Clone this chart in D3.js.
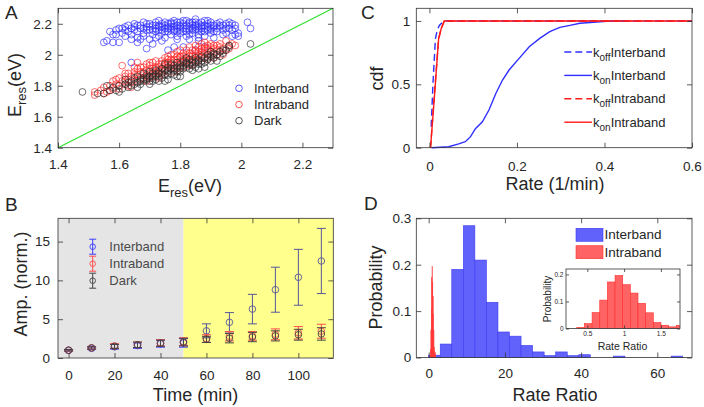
<!DOCTYPE html>
<html>
<head>
<meta charset="utf-8">
<script src="https://cdn.jsdelivr.net/npm/d3@7"></script>
<style>
  body { margin: 0; background: #fff; }
  svg text { font-family: Arial, "Liberation Sans", sans-serif; fill: #262626; }
</style>
</head>
<body>
<svg id="fig" width="704" height="407"></svg>
<script>
'use strict';

// ---- A: resonance energies ----
const interbandPts = [[1.55,2.08],[1.56,2.09],[1.58,2.08],[1.57,2.15],[1.58,2.13],[1.59,2.16],[1.60,2.17],[1.61,2.14],[1.62,2.18],[1.62,2.16],[1.63,2.19],[1.64,2.17],[1.64,2.13],[1.65,2.18],[1.65,2.20],[1.66,2.15],[1.66,2.11],[1.66,2.08],[1.67,2.17],[1.67,2.19],[1.68,2.21],[1.68,2.14],[1.68,2.12],[1.69,2.04],[1.69,2.18],[1.70,2.16],[1.70,2.20],[1.70,2.10],[1.71,2.19],[1.71,2.13],[1.72,2.21],[1.72,2.17],[1.72,2.15],[1.73,2.18],[1.73,2.12],[1.73,2.22],[1.74,2.20],[1.74,2.16],[1.74,2.14],[1.75,2.19],[1.75,2.17],[1.75,2.21],[1.75,2.11],[1.76,2.03],[1.76,2.18],[1.76,2.15],[1.77,2.20],[1.77,2.16],[1.77,2.13],[1.78,2.22],[1.78,2.18],[1.78,2.05],[1.78,2.15],[1.79,2.19],[1.79,2.17],[1.79,2.12],[1.80,2.21],[1.80,2.18],[1.80,2.16],[1.80,2.14],[1.81,2.20],[1.81,2.17],[1.81,2.05],[1.82,2.19],[1.82,2.22],[1.82,2.15],[1.82,2.12],[1.83,2.18],[1.83,2.20],[1.83,2.16],[1.84,2.21],[1.84,2.17],[1.84,2.14],[1.85,2.19],[1.85,2.23],[1.85,2.16],[1.85,2.03],[1.86,2.20],[1.86,2.18],[1.86,2.13],[1.87,2.21],[1.87,2.17],[1.87,2.15],[1.88,2.19],[1.88,2.22],[1.88,2.05],[1.88,2.12],[1.89,2.18],[1.89,2.20],[1.89,2.16],[1.90,2.21],[1.90,2.17],[1.90,2.14],[1.91,2.19],[1.91,2.15],[1.92,2.20],[1.92,2.17],[1.93,2.18],[1.93,2.21],[1.94,2.16],[1.94,2.19],[1.95,2.20],[1.95,2.14],[1.96,2.19],[1.96,2.17],[1.97,2.20],[1.97,2.16],[1.98,2.17],[1.98,2.13],[1.99,2.14],[1.99,2.12],[2.02,2.21],[2.03,2.17],[1.64,1.95],[1.60,2.08],[1.63,2.15],[1.67,2.10],[1.71,2.07],[1.74,2.09],[1.83,2.10],[1.86,2.09],[1.91,2.11],[1.69,2.16],[1.76,2.20],[1.79,2.21],[1.84,2.19],[1.87,2.19],[1.81,2.22],[1.73,2.19],[1.77,2.18],[1.83,2.13],[1.90,2.19],[1.94,2.13],[1.65,2.16],[1.61,2.17],[1.66,2.19],[1.68,2.17],[1.69,2.20],[1.70,2.18],[1.71,2.16],[1.72,2.19],[1.73,2.16],[1.74,2.18],[1.75,2.15],[1.76,2.17],[1.77,2.21],[1.78,2.16],[1.78,2.20],[1.79,2.15],[1.80,2.19],[1.81,2.15],[1.82,2.17],[1.83,2.21],[1.84,2.16],[1.85,2.18],[1.85,2.21],[1.86,2.16],[1.87,2.18],[1.88,2.17],[1.88,2.15],[1.89,2.22],[1.90,2.16],[1.91,2.18],[1.92,2.15],[1.93,2.19],[1.95,2.17],[1.96,2.21],[1.98,2.19],[1.62,2.12],[1.64,2.10],[1.59,2.13],[1.72,2.11],[1.79,2.10],[1.86,2.11],[1.97,2.12]];

const intrabandPts = [[1.52,1.74],[1.52,1.76],[1.54,1.77],[1.55,1.79],[1.56,1.76],[1.57,1.80],[1.58,1.83],[1.58,1.78],[1.59,1.81],[1.60,1.85],[1.60,1.80],[1.61,1.93],[1.61,1.83],[1.62,1.86],[1.62,1.81],[1.63,1.84],[1.63,1.88],[1.64,1.82],[1.64,1.86],[1.65,1.89],[1.65,1.84],[1.66,1.87],[1.66,1.91],[1.66,1.83],[1.67,1.85],[1.67,1.89],[1.68,1.92],[1.68,1.87],[1.68,1.84],[1.69,1.90],[1.69,1.86],[1.70,1.93],[1.70,1.88],[1.70,1.85],[1.71,1.91],[1.71,1.87],[1.71,1.95],[1.72,1.89],[1.72,1.92],[1.72,1.86],[1.73,1.94],[1.73,1.90],[1.73,1.88],[1.74,1.96],[1.74,1.91],[1.74,1.89],[1.75,1.93],[1.75,1.90],[1.75,1.98],[1.76,1.92],[1.76,1.95],[1.76,1.89],[1.77,1.97],[1.77,1.93],[1.77,1.91],[1.78,1.95],[1.78,2.00],[1.78,1.92],[1.79,1.94],[1.79,1.97],[1.79,2.02],[1.80,1.96],[1.80,1.93],[1.80,1.99],[1.81,1.95],[1.81,2.01],[1.81,1.97],[1.82,1.98],[1.82,1.94],[1.82,2.03],[1.83,1.99],[1.83,1.96],[1.83,2.05],[1.84,2.00],[1.84,1.97],[1.84,2.03],[1.85,1.98],[1.85,2.01],[1.85,2.06],[1.86,2.02],[1.86,1.99],[1.86,1.96],[1.87,2.04],[1.87,2.00],[1.87,2.07],[1.88,2.01],[1.88,1.98],[1.88,2.05],[1.89,2.03],[1.89,2.00],[1.89,2.06],[1.90,2.02],[1.90,1.99],[1.90,2.05],[1.91,2.04],[1.91,2.01],[1.92,2.03],[1.92,2.06],[1.93,2.02],[1.93,2.05],[1.94,2.04],[1.95,2.09],[1.95,2.03],[1.96,2.06],[1.97,2.07],[1.98,2.06],[1.59,1.84],[1.63,1.80],[1.65,1.92],[1.69,1.83],[1.72,1.96],[1.76,1.99],[1.78,1.89],[1.81,1.92],[1.84,1.94],[1.86,2.05],[1.88,2.08],[1.91,1.98],[1.94,2.00],[1.57,1.77],[1.62,1.88],[1.67,1.92],[1.70,1.95],[1.73,1.85],[1.77,2.00],[1.80,2.03],[1.83,1.93],[1.89,1.97],[1.92,2.00],[1.66,1.95],[1.64,1.79],[1.60,1.78],[1.55,1.75],[1.62,1.83],[1.65,1.87],[1.68,1.89],[1.70,1.90],[1.72,1.91],[1.73,1.92],[1.74,1.94],[1.75,1.95],[1.76,1.94],[1.77,1.95],[1.78,1.97],[1.79,1.99],[1.80,1.98],[1.81,1.99],[1.82,2.00],[1.83,2.01],[1.84,1.99],[1.85,2.03],[1.86,2.00],[1.87,2.02],[1.88,2.03],[1.89,2.04],[1.90,2.07],[1.91,2.06],[1.93,2.07],[1.96,2.04],[1.69,1.94],[1.71,1.89],[1.74,1.87],[1.76,1.97],[1.79,1.91],[1.82,1.96],[1.85,1.96],[1.87,1.98]];

const darkPts = [[1.48,1.76],[1.53,1.75],[1.55,1.75],[1.57,1.77],[1.58,1.79],[1.59,1.77],[1.60,1.80],[1.61,1.78],[1.62,1.81],[1.63,1.79],[1.64,1.83],[1.65,1.81],[1.65,1.85],[1.66,1.82],[1.66,1.86],[1.67,1.84],[1.67,1.81],[1.68,1.85],[1.68,1.83],[1.69,1.87],[1.69,1.84],[1.70,1.86],[1.70,1.83],[1.70,1.89],[1.71,1.85],[1.71,1.88],[1.72,1.87],[1.72,1.84],[1.72,1.90],[1.73,1.86],[1.73,1.89],[1.74,1.88],[1.74,1.85],[1.74,1.91],[1.75,1.87],[1.75,1.90],[1.75,1.83],[1.76,1.89],[1.76,1.92],[1.76,1.87],[1.77,1.91],[1.77,1.88],[1.77,1.94],[1.78,1.90],[1.78,1.93],[1.78,1.87],[1.79,1.92],[1.79,1.89],[1.79,1.95],[1.80,1.91],[1.80,1.94],[1.80,1.89],[1.81,1.93],[1.81,1.96],[1.81,1.91],[1.82,1.95],[1.82,1.92],[1.83,1.94],[1.83,1.97],[1.83,1.91],[1.84,1.96],[1.84,1.93],[1.85,1.95],[1.85,1.98],[1.85,1.92],[1.86,1.97],[1.86,1.94],[1.87,1.96],[1.87,1.99],[1.88,1.98],[1.88,1.95],[1.89,2.00],[1.89,1.97],[1.90,1.99],[1.90,1.96],[1.91,2.01],[1.91,1.98],[1.92,2.00],[1.93,2.02],[1.93,1.99],[1.94,2.01],[1.95,2.03],[1.96,2.05],[1.96,2.06],[2.03,2.07],[1.71,1.83],[1.64,1.80],[1.68,1.88],[1.73,1.83],[1.76,1.84],[1.80,1.86],[1.84,1.90],[1.88,1.92],[1.92,1.96],[1.62,1.84],[1.66,1.79],[1.70,1.81],[1.75,1.94],[1.79,1.86],[1.82,1.98],[1.86,1.91],[1.90,2.02],[1.56,1.80],[1.60,1.76],[1.71,1.86],[1.73,1.88],[1.76,1.90],[1.78,1.91],[1.80,1.92],[1.82,1.94],[1.84,1.95],[1.86,1.96],[1.87,1.94],[1.89,1.98],[1.91,2.00],[1.94,2.03],[1.69,1.85],[1.67,1.83],[1.63,1.82]];

const diagEnds = [1.4, 2.3];
const aTicks = [1.4, 1.6, 1.8, 2, 2.2];

// ---- B: amplitude vs time ----
const times = [0, 10, 20, 30, 40, 50, 60, 70, 80, 90, 100, 110];
const ampInter = [1.0, 1.25, 1.45, 1.6, 1.85, 1.95, 3.5, 4.6, 6.3, 8.8, 10.4, 12.5];
const errInter = [0.1, 0.15, 0.3, 0.35, 0.45, 0.55, 0.9, 1.25, 1.9, 2.9, 3.6, 4.2];
const ampIntra = [1.0, 1.3, 1.55, 1.7, 1.95, 2.1, 2.5, 2.8, 2.85, 3.05, 3.25, 3.45];
const errIntra = [0.1, 0.15, 0.3, 0.35, 0.4, 0.5, 0.5, 0.6, 0.55, 0.7, 0.8, 0.9];
const ampDark = [1.0, 1.3, 1.5, 1.7, 1.9, 2.05, 2.4, 2.55, 2.7, 2.85, 3.0, 3.1];
const errDark = [0.1, 0.15, 0.25, 0.35, 0.4, 0.5, 0.4, 0.6, 0.6, 0.65, 0.7, 0.8];
const lightOnAt = 50;
const bxTicks = [0, 20, 40, 60, 80, 100];
const byTicks = [0, 5, 10, 15];

// ---- C: rate cdfs ----
const koffInterRate = [0.004, 0.008, 0.0137, 0.018, 0.023, 0.03, 0.034, 0.6];
const koffInterCdf = [0.165, 0.5, 0.86, 0.93, 0.966, 0.99, 1.0, 1.0];
const konInterRate = [0.005, 0.044, 0.067, 0.082, 0.094, 0.105, 0.121, 0.136, 0.152, 0.167, 0.182, 0.205, 0.228, 0.252, 0.275, 0.298, 0.321, 0.344, 0.375, 0.405, 0.436, 0.45];
const konInterCdf = [0, 0.008, 0.03, 0.047, 0.087, 0.15, 0.205, 0.297, 0.43, 0.534, 0.613, 0.705, 0.797, 0.863, 0.916, 0.95, 0.965, 0.982, 0.99, 0.997, 1.0, 1.0];
const koffIntraRate = [0.0025, 0.012, 0.021, 0.027, 0.034, 0.6];
const koffIntraCdf = [0, 0.45, 0.86, 0.94, 1.0, 1.0];
const konIntraRate = [0.0025, 0.012, 0.021, 0.027, 0.034, 0.6];
const konIntraCdf = [0, 0.43, 0.86, 0.94, 1.0, 1.0];
const cxTicks = [0, 0.2, 0.4, 0.6];
const cyTicks = [0, 0.5, 1];

// ---- D: rate ratio histograms ----
const interBinWidth = 3.03;
const interProb = [0.005, 0.029, 0.19, 0.284, 0.21, 0.119, 0.055, 0.046, 0.026, 0.012, 0.004, 0.012, 0.004, 0.006, 0, 0, 0.003, 0, 0, 0, 0, 0.003];
const intraBinStart = 0.357;
const intraBinWidth = 0.104;
const intraProb = [0.004, 0.018, 0.059, 0.105, 0.172, 0.196, 0.162, 0.131, 0.093, 0.058, 0.022, 0.012, 0.006, 0.011];
const dxTicks = [0, 20, 40, 60];
const dyTicks = [0, 0.1, 0.2, 0.3];
const insetXTicks = [0.5, 1, 1.5];
const insetYTicks = [0, 0.1, 0.2];

const svg = d3.select('#fig');
svg.append('rect').attr('width', 704).attr('height', 407).attr('fill', '#fff');

const frameColor = '#333';

// boxed axes, ticks pointing inwards on all four sides
function frame(g, x, y, xt, yt, o) {
  const [x0, x1] = x.range();
  const [y1, y0] = y.range();
  const tl = o.tick || 5;
  const fs = o.fs || 13.5;
  const fmt = d => String(d);
  const axes = [
    [d3.axisBottom(x).tickValues(xt).tickPadding(o.padX).tickFormat(fmt), `translate(0,${y1})`, true],
    [d3.axisTop(x).tickValues(xt).tickFormat(''), `translate(0,${y0})`, false],
    [d3.axisLeft(y).tickValues(yt).tickPadding(o.padY).tickFormat(fmt), `translate(${x0},0)`, true],
    [d3.axisRight(y).tickValues(yt).tickFormat(''), `translate(${x1},0)`, false]
  ];
  axes.forEach(([ax, tr, lab]) => {
    const a = g.append('g').attr('transform', tr)
      .call(ax.tickSizeInner(-tl).tickSizeOuter(0));
    a.select('.domain').remove();
    a.selectAll('line').attr('stroke', frameColor).attr('stroke-width', 0.8);
    a.attr('font-family', null).attr('font-size', null);
    a.selectAll('text').style('font-size', fs + 'px');
    if (!lab) a.selectAll('text').remove();
  });
  g.append('rect')
    .attr('x', x0).attr('y', y0).attr('width', x1 - x0).attr('height', y1 - y0)
    .attr('fill', 'none').attr('stroke', frameColor).attr('stroke-width', 0.8);
}

function panelLetter(t, x, y) {
  svg.append('text').attr('x', x).attr('y', y).style('font-size', '19px').text(t);
}

// ================= A =================
const gA = svg.append('g');
const ax = d3.scaleLinear().domain([1.4, 2.3]).range([58, 333]);
const ay = d3.scaleLinear().domain([1.4, 2.3]).range([147.7, 8.3]);

gA.append('line')
  .attr('x1', ax(diagEnds[0])).attr('y1', ay(diagEnds[0]))
  .attr('x2', ax(diagEnds[1])).attr('y2', ay(diagEnds[1]))
  .attr('stroke', '#2ee02e').attr('stroke-width', 1.2);

const scatterSets = [
  { pts: interbandPts, color: '#3030ff', name: 'Interband' },
  { pts: intrabandPts, color: '#ff2a2a', name: 'Intraband' },
  { pts: darkPts, color: '#2a2a2a', name: 'Dark' }
];
scatterSets.forEach(s => {
  gA.append('g').selectAll('circle').data(s.pts).enter().append('circle')
    .attr('cx', d => ax(d[0])).attr('cy', d => ay(d[1])).attr('r', 3.4)
    .attr('fill', 'none').attr('stroke', s.color).attr('stroke-width', 0.8)
    .attr('stroke-opacity', 0.85);
});
frame(gA, ax, ay, aTicks, aTicks, { padX: 11.5, padY: 6 });

scatterSets.forEach((s, i) => {
  const yy = 88.3 + i * 16.2;
  gA.append('circle').attr('cx', 239).attr('cy', yy).attr('r', 3.3)
    .attr('fill', 'none').attr('stroke', s.color).attr('stroke-width', 0.8);
  gA.append('text').attr('x', 254).attr('y', yy + 4.6).style('font-size', '13px').text(s.name);
});

const aXl = gA.append('text').attr('x', 190).attr('y', 192).attr('text-anchor', 'middle').style('font-size', '18px');
aXl.append('tspan').text('E');
aXl.append('tspan').attr('dy', 5).style('font-size', '13px').text('res');
aXl.append('tspan').attr('dy', -5).text('(eV)');
const aYl = gA.append('text').attr('transform', 'translate(21,85) rotate(-90)').attr('text-anchor', 'middle').style('font-size', '18px');
aYl.append('tspan').text('E');
aYl.append('tspan').attr('dy', 5).style('font-size', '13px').text('res');
aYl.append('tspan').attr('dy', -5).text('(eV)');
panelLetter('A', 5, 18.5);

// ================= B =================
const gB = svg.append('g');
const bx = d3.scaleLinear().domain([-4.6, 115.2]).range([58, 333.3]);
const by = d3.scaleLinear().domain([0, 18]).range([358, 218.3]);

gB.append('rect').attr('x', bx(-4.6)).attr('y', by(18))
  .attr('width', bx(lightOnAt) - bx(-4.6)).attr('height', by(0) - by(18)).attr('fill', '#e5e5e5');
gB.append('rect').attr('x', bx(lightOnAt)).attr('y', by(18))
  .attr('width', bx(115.2) - bx(lightOnAt)).attr('height', by(0) - by(18)).attr('fill', '#ffff8e');

function errSeries(g, mean, err, colorOf) {
  const s = g.append('g');
  times.forEach((t, i) => {
    const c = colorOf(t);
    const px = bx(t);
    const lo = by(mean[i] - err[i]), hi = by(mean[i] + err[i]);
    s.append('line').attr('x1', px).attr('x2', px).attr('y1', lo).attr('y2', hi)
      .attr('stroke', c).attr('stroke-width', 1);
    [lo, hi].forEach(yy => s.append('line').attr('x1', px - 4.5).attr('x2', px + 4.5)
      .attr('y1', yy).attr('y2', yy).attr('stroke', c).attr('stroke-width', 1));
    s.append('circle').attr('cx', px).attr('cy', by(mean[i])).attr('r', 3.3)
      .attr('fill', 'none').attr('stroke', c).attr('stroke-width', 0.9);
  });
}
errSeries(gB, ampInter, errInter, t => (t > lightOnAt ? '#56569a' : '#3b3bff'));
errSeries(gB, ampIntra, errIntra, () => '#ff4c4c');
errSeries(gB, ampDark, errDark, () => '#444');
frame(gB, bx, by, bxTicks, byTicks, { padX: 12.7, padY: 8 });

[['Interband', '#3b3bff'], ['Intraband', '#ff4c4c'], ['Dark', '#444']].forEach(([name, c], i) => {
  const yy = 246.7 + i * 17;
  const px = 92.7;
  gB.append('line').attr('x1', px).attr('x2', px).attr('y1', yy - 7.5).attr('y2', yy + 7.5).attr('stroke', c);
  [yy - 7.5, yy + 7.5].forEach(v => gB.append('line').attr('x1', px - 3.5).attr('x2', px + 3.5)
    .attr('y1', v).attr('y2', v).attr('stroke', c));
  gB.append('circle').attr('cx', px).attr('cy', yy).attr('r', 2.8)
    .attr('fill', 'none').attr('stroke', c).attr('stroke-width', 0.9);
  gB.append('text').attr('x', 109.3).attr('y', yy + 4.6).style('font-size', '13px')
    .style('fill', '#4a4a4a').text(name);
});

gB.append('text').attr('x', 195.5).attr('y', 401).attr('text-anchor', 'middle').style('font-size', '18px').text('Time (min)');
gB.append('text').attr('transform', 'translate(27,284) rotate(-90)').attr('text-anchor', 'middle').style('font-size', '18px').text('Amp. (norm.)');
panelLetter('B', 5, 211);

// ================= C =================
const gC = svg.append('g');
const cx = d3.scaleLinear().domain([-0.03, 0.6]).range([416.3, 692]);
const cy = d3.scaleLinear().domain([0, 1.1]).range([147.7, 8.3]);
const cBlue = '#2f2fff', cRed = '#ff1a1a';
const cLines = [
  { r: koffInterRate, p: koffInterCdf, c: cBlue, dash: '7,4', lab: ['off', 'Interband'] },
  { r: konInterRate, p: konInterCdf, c: cBlue, dash: null, lab: ['on', 'Interband'] },
  { r: koffIntraRate, p: koffIntraCdf, c: cRed, dash: '7,4', lab: ['off', 'Intraband'] },
  { r: konIntraRate, p: konIntraCdf, c: cRed, dash: null, lab: ['on', 'Intraband'] }
];
const cLine = d3.line().x(d => cx(d[0])).y(d => cy(d[1]));
cLines.forEach(l => {
  gC.append('path').datum(l.r.map((v, i) => [v, l.p[i]]))
    .attr('d', cLine).attr('fill', 'none').attr('stroke', l.c)
    .attr('stroke-width', 1.4).attr('stroke-dasharray', l.dash);
});
frame(gC, cx, cy, cxTicks, cyTicks, { padX: 14, padY: 6 });

cLines.forEach((l, i) => {
  const yy = 52 + i * 23.4;
  gC.append('line').attr('x1', 564.3).attr('x2', 592).attr('y1', yy).attr('y2', yy)
    .attr('stroke', l.c).attr('stroke-width', 1.4).attr('stroke-dasharray', l.dash);
  const t = gC.append('text').attr('x', 593).attr('y', yy + 4.5).style('font-size', '13px');
  t.append('tspan').text('k');
  t.append('tspan').attr('dy', 4).style('font-size', '10px').text(l.lab[0]);
  t.append('tspan').attr('dy', -4).text(l.lab[1]);
});
gC.append('text').attr('x', 555).attr('y', 190).attr('text-anchor', 'middle').style('font-size', '18px').text('Rate (1/min)');
gC.append('text').attr('transform', 'translate(383,78.5) rotate(-90)').attr('text-anchor', 'middle').style('font-size', '18px').text('cdf');
panelLetter('C', 361, 18.5);

// ================= D =================
const gD = svg.append('g');
const dx = d3.scaleLinear().domain([-3.25, 69.1]).range([416.3, 692]);
const dy = d3.scaleLinear().domain([0, 0.3]).range([357.5, 218.3]);
const blueFill = '#6161fb', blueEdge = '#3d3df2', redFill = '#ff6363', redEdge = '#ff2e2e';

gD.append('g').selectAll('rect').data(interProb.map((p, i) => ({ s: i * interBinWidth, p })).filter(d => d.p > 0))
  .enter().append('rect')
  .attr('x', d => dx(d.s)).attr('width', d => dx(d.s + interBinWidth) - dx(d.s))
  .attr('y', d => dy(d.p)).attr('height', d => dy(0) - dy(d.p))
  .attr('fill', blueFill).attr('stroke', blueEdge).attr('stroke-width', 0.6);
gD.append('g').selectAll('rect').data(intraProb.map((p, i) => ({ s: intraBinStart + i * intraBinWidth, p })))
  .enter().append('rect')
  .attr('x', d => dx(d.s)).attr('width', d => dx(d.s + intraBinWidth) - dx(d.s))
  .attr('y', d => dy(d.p)).attr('height', d => dy(0) - dy(d.p))
  .attr('fill', redFill).attr('stroke', redEdge).attr('stroke-width', 0.5);
frame(gD, dx, dy, dxTicks, dyTicks, { padX: 11, padY: 5 });

[['Interband', blueFill, blueEdge], ['Intraband', redFill, redEdge]].forEach(([name, f, e], i) => {
  const yy = 228.3 + i * 17.4;
  gD.append('rect').attr('x', 576).attr('y', yy).attr('width', 27).attr('height', 13)
    .attr('fill', f).attr('stroke', e).attr('stroke-width', 0.6);
  gD.append('text').attr('x', 604.5).attr('y', yy + 11).style('font-size', '13.5px').text(name);
});

gD.append('text').attr('x', 555).attr('y', 401).attr('text-anchor', 'middle').style('font-size', '18px').text('Rate Ratio');
gD.append('text').attr('transform', 'translate(382,287.5) rotate(-90)').attr('text-anchor', 'middle').style('font-size', '18px').text('Probability');
panelLetter('D', 364, 210);

// inset
const gI = svg.append('g');
const ix = d3.scaleLinear().domain([0.21, 1.76]).range([566, 680]);
const iy = d3.scaleLinear().domain([0, 0.22]).range([328.5, 269]);
gI.append('rect').attr('x', 566).attr('y', 269).attr('width', 114).attr('height', 59.5).attr('fill', '#fff');
gI.append('clipPath').attr('id', 'insetClip').append('rect')
  .attr('x', 566).attr('y', 269).attr('width', 114).attr('height', 59.5);
gI.append('g').attr('clip-path', 'url(#insetClip)').selectAll('rect')
  .data(intraProb.map((p, i) => ({ s: intraBinStart + i * intraBinWidth, p })))
  .enter().append('rect')
  .attr('x', d => ix(d.s)).attr('width', d => ix(d.s + intraBinWidth) - ix(d.s))
  .attr('y', d => iy(d.p)).attr('height', d => iy(0) - iy(d.p))
  .attr('fill', redFill).attr('stroke', redEdge).attr('stroke-width', 0.6);
frame(gI, ix, iy, insetXTicks, insetYTicks, { padX: 3, padY: 2.5, tick: 3, fs: 6.5 });
gI.append('text').attr('x', 622.5).attr('y', 350).attr('text-anchor', 'middle').style('font-size', '10.5px').text('Rate Ratio');
gI.append('text').attr('transform', 'translate(551,299) rotate(-90)').attr('text-anchor', 'middle').style('font-size', '10px').text('Probability');
</script>
</body>
</html>
